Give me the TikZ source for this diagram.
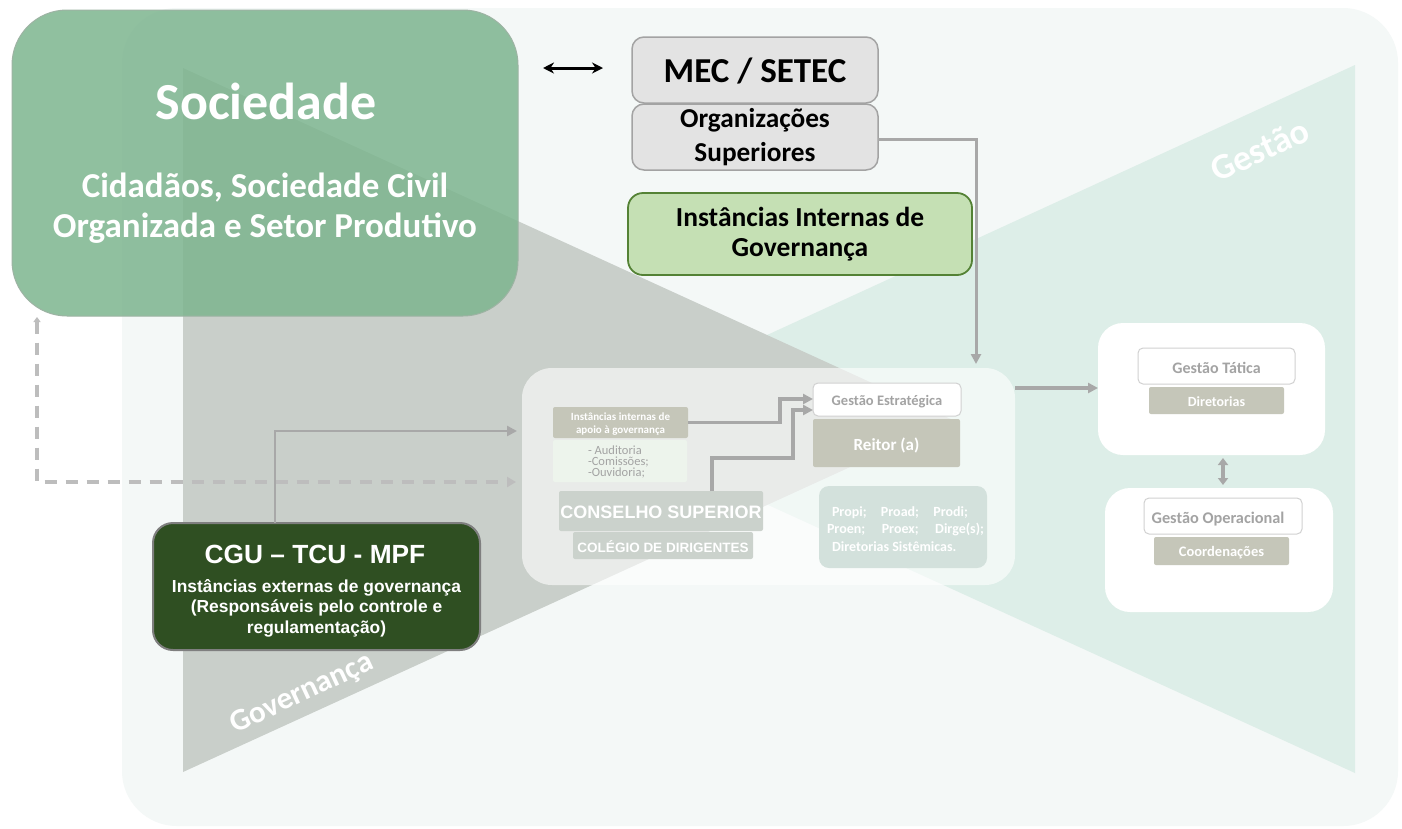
\documentclass[tikz,border=0pt]{standalone}
\usepackage{fontspec}
\setmainfont{Carlito}
\newfontfamily\arl{Liberation Sans}
\usetikzlibrary{arrows.meta}
\newcommand\fsz[1]{\fontsize{#1}{#1}\selectfont}
\definecolor{bgc}{HTML}{F4F8F7}
\definecolor{graytri}{HTML}{C9CFCA}
\definecolor{greentri}{HTML}{DDEEE8}
\definecolor{socfill}{HTML}{7DB58F}
\definecolor{socborder}{HTML}{9DB3A3}
\definecolor{mecfill}{HTML}{E3E3E3}
\definecolor{mecborder}{HTML}{A3A3A3}
\definecolor{intfill}{HTML}{C5E0B4}
\definecolor{intborder}{HTML}{548235}
\definecolor{cgufill}{HTML}{2F4F22}
\definecolor{cguborder}{HTML}{7F7F7F}
\definecolor{olive}{HTML}{C5C6B9}
\definecolor{linegray}{HTML}{A8A8A8}
\definecolor{textgray}{HTML}{A3A3A3}
\definecolor{consfill}{HTML}{CBD2CC}
\definecolor{propifill}{HTML}{D3E1DC}
\definecolor{listfill}{HTML}{EDF4EC}
\definecolor{dashgray}{HTML}{BDBDBD}
\begin{document}
\begin{tikzpicture}[x=1pt,y=-1pt,
  box/.style={rectangle, inner sep=0pt, outer sep=0pt},
  lbl/.style={inner sep=0pt, outer sep=0pt, anchor=base},
  conn/.style={draw=linegray, line width=3.6pt, -{Triangle[length=10pt,width=10pt]}},
  olivebox/.style={box, fill=olive, rounded corners=2pt},
  whitebox/.style={box, fill=white, draw=black!18, line width=1pt, rounded corners=5pt},
  outerbox/.style={box, fill=white, rounded corners=25pt}
]
\useasboundingbox (0,0) rectangle (1402,828);
\fill[white] (0,0) rectangle (1402,828);
\fill[bgc, rounded corners=55pt] (122,8) rectangle (1398,826);
\fill[greentri] (1355,65) -- (1355,773) -- (582,420) -- cycle;
\fill[graytri] (183,68) -- (183,772) -- (953,420) -- cycle;
\node[inner sep=0pt, rotate=24.6, text=white, font=\bfseries\fsz{36}] (tgestao) at (1260,150) {Gestão};
\node[inner sep=0pt, rotate=25, text=white, font=\bfseries\fsz{31}] (tgov) at (302,694) {Governança};

% central box
\node[box, fill=white, fill opacity=0.6, rounded corners=30pt, minimum width=493pt, minimum height=217pt] (cbox) at (768.5,476.5) {};
\node[olivebox, minimum width=135pt, minimum height=31pt] (apoio) at (620.5,422.5) {};
\node[lbl, text=white, font=\bfseries\fsz{11}] (apoio1) at (620.5,420) {Instâncias internas de};
\node[lbl, text=white, font=\bfseries\fsz{11}] (apoio2) at (620.5,433) {apoio à governança};
\node[box, fill=listfill, rounded corners=2pt, minimum width=134pt, minimum height=42pt] (lista) at (620,461) {};
\node[lbl, anchor=base west, text=textgray, font=\fsz{12.5}] (l1) at (588,454) {- Auditoria};
\node[lbl, anchor=base west, text=textgray, font=\fsz{12.5}] (l2) at (588,465) {-Comissões;};
\node[lbl, anchor=base west, text=textgray, font=\fsz{12.5}] (l3) at (588,476) {-Ouvidoria;};
\node[box, fill=consfill, rounded corners=2pt, minimum width=204pt, minimum height=40pt] (cons) at (661,511) {};
\node[lbl, text=white, font=\arl\bfseries\fsz{18}] (consT) at (661,518) {CONSELHO SUPERIOR};
\node[box, fill=consfill, rounded corners=2pt, minimum width=180pt, minimum height=27pt] (coleg) at (663,545.5) {};
\node[lbl, text=white, font=\arl\bfseries\fsz{13.5}] (colegT) at (663,552) {COLÉGIO DE DIRIGENTES};
\node[whitebox, minimum width=148pt, minimum height=33pt] (gestE) at (887,399.5) {};
\node[lbl, text=textgray, font=\bfseries\fsz{14.5}] (gestET) at (887,405) {Gestão Estratégica};
\node[olivebox, minimum width=147pt, minimum height=48pt] (reitor) at (886.5,443) {};
\node[lbl, text=white, font=\bfseries\fsz{17}] (reitorT) at (886.5,450) {Reitor (a)};
\node[box, fill=propifill, rounded corners=10pt, minimum width=168pt, minimum height=82pt] (propi) at (903,527) {};
\node[lbl, anchor=base west, text=white, font=\bfseries\fsz{14}] (p1) at (832,516) {\makebox[136pt][s]{Propi;\hfill Proad;\hfill Prodi;}};
\node[lbl, anchor=base west, text=white, font=\bfseries\fsz{14}] (p2) at (827,533) {\makebox[157pt][s]{Proen;\hfill Proex;\hfill Dirge(s);}};
\node[lbl, anchor=base west, text=white, font=\bfseries\fsz{14}] (p3) at (832,551) {Diretorias Sistêmicas.};

% right boxes
\node[outerbox, minimum width=227pt, minimum height=132pt] (tat) at (1211.5,389) {};
\node[whitebox, minimum width=157pt, minimum height=36pt] (tatI) at (1216.5,366) {};
\node[lbl, text=textgray, font=\bfseries\fsz{16}] (tatT) at (1216.5,373) {Gestão Tática};
\node[olivebox, minimum width=135pt, minimum height=27pt] (dir) at (1216.5,400.5) {};
\node[lbl, text=white, font=\bfseries\fsz{14}] (dirT) at (1216.5,406) {Diretorias};
\node[outerbox, minimum width=228pt, minimum height=124pt] (op) at (1219,550) {};
\node[whitebox, minimum width=158pt, minimum height=36pt] (opI) at (1223,516) {};
\node[lbl, text=textgray, font=\bfseries\fsz{16.3}] (opT) at (1218,523) {Gestão Operacional};
\node[olivebox, minimum width=135pt, minimum height=28pt] (coord) at (1221.5,551) {};
\node[lbl, text=white, font=\bfseries\fsz{14.5}] (coordT) at (1221.5,556) {Coordenações};

% Sociedade
\node[box, fill=socfill, fill opacity=0.85, draw=socborder, line width=1pt, rounded corners=55pt, minimum width=506pt, minimum height=306pt] (soc) at (265,163) {};
\node[lbl, text=white, font=\bfseries\fsz{52}] (socT) at (266,119) {Sociedade};
\node[lbl, text=white, font=\bfseries\fsz{35}] (socA) at (265,197) {Cidadãos, Sociedade Civil};
\node[lbl, text=white, font=\bfseries\fsz{35}] (socB) at (265,237) {Organizada e Setor Produtivo};

% MEC
\node[box, fill=mecfill, draw=mecborder, line width=1.5pt, rounded corners=12pt, minimum width=246pt, minimum height=66pt] (mec) at (755,70) {};
\node[lbl, font=\bfseries\fsz{35}] (mecT) at (755,82) {MEC / SETEC};
\node[box, fill=mecfill, draw=mecborder, line width=1.5pt, rounded corners=12pt, minimum width=246pt, minimum height=66pt] (org) at (755,137) {};
\node[lbl, font=\bfseries\fsz{27.3}] (org1) at (755,127) {Organizações};
\node[lbl, font=\bfseries\fsz{27.3}] (org2) at (755,161) {Superiores};

% Instancias internas
\node[box, fill=intfill, draw=intborder, line width=1.8pt, rounded corners=15pt, minimum width=344pt, minimum height=82pt] (int) at (800,234) {};
\node[lbl, font=\bfseries\fsz{27.5}] (int1) at (800,226) {Instâncias Internas de};
\node[lbl, font=\bfseries\fsz{27.5}] (int2) at (800,256) {Governança};

% CGU
\node[box, fill=cgufill, draw=cguborder, line width=2pt, rounded corners=20pt, minimum width=327pt, minimum height=127pt] (cgu) at (316.5,586.5) {};
\node[lbl, text=white, font=\arl\bfseries\fsz{26.3}] (cguT) at (315,563) {CGU – TCU - MPF};
\node[lbl, text=white, font=\arl\bfseries\fsz{17.4}] (cgu1) at (316.5,592) {Instâncias externas de governança};
\node[lbl, text=white, font=\arl\bfseries\fsz{17.4}] (cgu2) at (316.5,612) {(Responsáveis pelo controle e};
\node[lbl, text=white, font=\arl\bfseries\fsz{17.4}] (cgu3) at (316.5,633) {regulamentação)};

% connectors
\coordinate (k1) at (543,68);
\coordinate (k2) at (603,68);
\draw[black, line width=3pt, {Stealth[length=11pt,width=11pt]}-{Stealth[length=11pt,width=11pt]}] (k1) -- (k2);

\coordinate (orgin) at (976,368);
\draw[conn, line width=3pt, shorten >=4pt] (org.east |- 0,139) -| (orgin);

\coordinate (b1) at (780,399);
\draw[conn] (apoio.east) -| (b1) -- (gestE.west |- b1);
\coordinate (b2) at (712,458);
\coordinate (b3) at (793,410);
\draw[conn] (cons.north -| b2) -- (b2) -| (b3) -- (gestE.west |- b3);

\coordinate (c1) at (275,431);
\draw[conn, line width=2.6pt, shorten >=5pt] (cgu.north -| c1) -- (c1) -- (cbox.west |- c1);

\coordinate (r1) at (0,388);
\draw[conn] (cbox.east |- r1) -- (tat.west |- r1);

\coordinate (v1) at (1223,0);
\draw[draw=linegray, line width=3.6pt, {Triangle[length=7pt,width=10pt]}-{Triangle[length=7pt,width=10pt]}, shorten <=3pt, shorten >=3pt] (tat.south -| v1) -- (op.north -| v1);

\coordinate (d1) at (37,317);
\coordinate (d2) at (0,482);
\draw[draw=dashgray, line width=3.5pt, dash pattern=on 12pt off 9pt, {Triangle[length=5pt,width=7pt]}-{Triangle[length=9pt,width=10pt]}, shorten >=6pt] (d1) |- (cbox.west |- d2);
\end{tikzpicture}
\end{document}
